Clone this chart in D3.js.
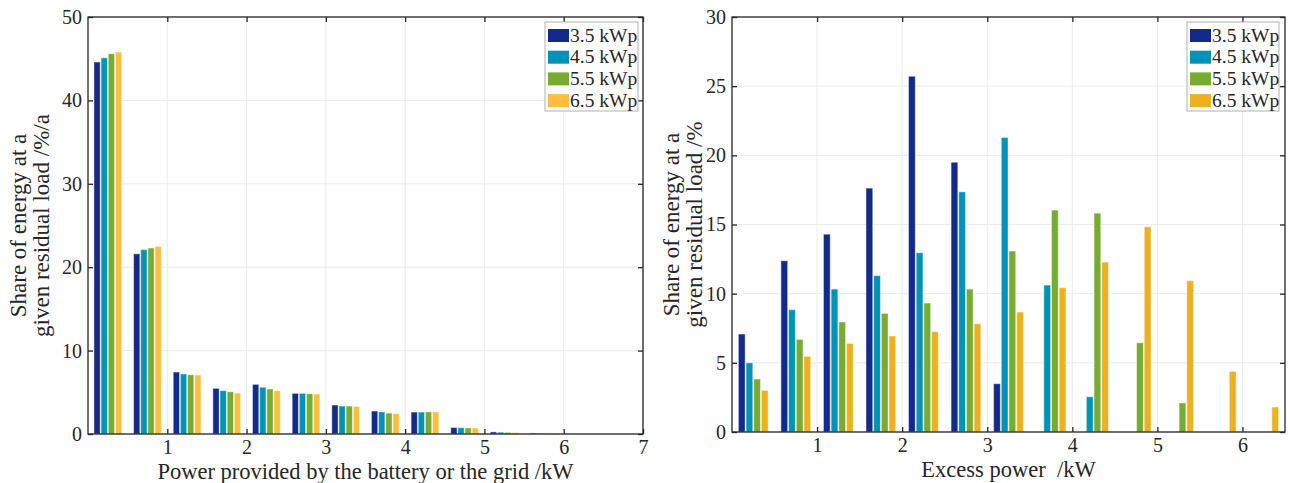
<!DOCTYPE html>
<html>
<head>
<meta charset="utf-8">
<script src="https://cdn.jsdelivr.net/npm/d3@7"></script>
<style>
  body { margin: 0; background: #fff; }
  text { font-family: "Liberation Serif", "Times New Roman", serif; fill: #262626; }
</style>
</head>
<body>
<svg id="chart" width="1290" height="483"></svg>
<script>
// series names
var seriesNames = ['3.5 kWp', '4.5 kWp', '5.5 kWp', '6.5 kWp'];

// left: power provided by battery or grid, bin centres (kW)
var leftBins = [0.25, 0.75, 1.25, 1.75, 2.25, 2.75, 3.25, 3.75, 4.25, 4.75, 5.25, 5.75];
var left35 = [44.6, 21.6, 7.43, 5.47, 5.95, 4.87, 3.47, 2.75, 2.63, 0.77, 0.25, 0.10];
var left45 = [45.1, 22.1, 7.2, 5.2, 5.6, 4.87, 3.35, 2.65, 2.63, 0.75, 0.22, 0.08];
var left55 = [45.6, 22.3, 7.1, 5.07, 5.4, 4.83, 3.35, 2.5, 2.65, 0.73, 0.20, 0.07];
var left65 = [45.8, 22.5, 7.07, 4.9, 5.2, 4.8, 3.3, 2.45, 2.65, 0.72, 0.18, 0.06];
var leftXTicks = [1, 2, 3, 4, 5, 6, 7];
var leftYTicks = [0, 10, 20, 30, 40, 50];

// right: excess power, bin centres (kW)
var rightBins = [0.25, 0.75, 1.25, 1.75, 2.25, 2.75, 3.25, 3.75, 4.25, 4.75, 5.25, 5.75, 6.25];
var right35 = [7.08, 12.38, 14.3, 17.63, 25.72, 19.5, 3.49, 0, 0, 0, 0, 0, 0];
var right45 = [5.0, 8.84, 10.33, 11.3, 12.96, 17.36, 21.29, 10.62, 2.55, 0, 0, 0, 0];
var right55 = [3.83, 6.69, 7.95, 8.57, 9.32, 10.33, 13.08, 16.04, 15.82, 6.45, 2.1, 0, 0];
var right65 = [3.0, 5.46, 6.4, 6.94, 7.25, 7.82, 8.67, 10.43, 12.28, 14.83, 10.93, 4.38, 1.81];
var rightXTicks = [1, 2, 3, 4, 5, 6];
var rightYTicks = [0, 5, 10, 15, 20, 25, 30];

var leftColors = ['#142a8a', '#0093ba', '#77ac30', '#fdbe3f'];
var rightColors = ['#142a8a', '#0093ba', '#77ac30', '#edb120'];

var svg = d3.select('#chart');

function drawPanel(opt) {
  var x = d3.scaleLinear().domain(opt.xDomain).range([opt.x0, opt.x1]);
  var y = d3.scaleLinear().domain(opt.yDomain).range([opt.y1, opt.y0]);
  var g = svg.append('g');

  // grid
  g.selectAll('.gx').data(opt.xTicks).enter().append('line')
    .attr('x1', function(d){ return x(d); }).attr('x2', function(d){ return x(d); })
    .attr('y1', opt.y0).attr('y2', opt.y1)
    .attr('stroke', '#ebebeb').attr('stroke-width', 1);
  g.selectAll('.gy').data(opt.yTicks).enter().append('line')
    .attr('x1', opt.x0).attr('x2', opt.x1)
    .attr('y1', function(d){ return y(d); }).attr('y2', function(d){ return y(d); })
    .attr('stroke', '#ebebeb').attr('stroke-width', 1);

  // bars
  var band = d3.scaleBand().domain(d3.range(4)).range([-opt.groupW / 2, opt.groupW / 2]).paddingInner(0.12);
  var scale = x(1) - x(0);
  opt.series.forEach(function(vals, si) {
    g.selectAll('.b' + si).data(vals).enter().append('rect')
      .attr('x', function(d, i){ return x(opt.bins[i]) + band(si) * scale; })
      .attr('width', band.bandwidth() * scale)
      .attr('y', function(d){ return y(d); })
      .attr('height', function(d){ return y(0) - y(d); })
      .attr('fill', opt.colors[si])
      .attr('stroke', 'rgba(255,255,255,0.45)').attr('stroke-width', 1)
      .attr('display', function(d){ return d > 0 ? null : 'none'; });
  });

  // box + inward ticks
  var axisColor = '#262626';
  g.append('rect').attr('x', opt.x0).attr('y', opt.y0)
    .attr('width', opt.x1 - opt.x0).attr('height', opt.y1 - opt.y0)
    .attr('fill', 'none').attr('stroke', axisColor).attr('stroke-width', 1.3);

  var fmt = d3.format('d');
  var bottom = d3.axisBottom(x).tickValues(opt.xTicks).tickFormat(fmt).tickSizeInner(-5).tickSizeOuter(0).tickPadding(6);
  var top = d3.axisTop(x).tickValues(opt.xTicks).tickSizeInner(-5).tickSizeOuter(0).tickFormat('');
  var leftAx = d3.axisLeft(y).tickValues(opt.yTicks).tickFormat(fmt).tickSizeInner(-5).tickSizeOuter(0).tickPadding(6);
  var rightAx = d3.axisRight(y).tickValues(opt.yTicks).tickSizeInner(-5).tickSizeOuter(0).tickFormat('');

  [[bottom, 'translate(0,' + opt.y1 + ')'], [top, 'translate(0,' + opt.y0 + ')'],
   [leftAx, 'translate(' + opt.x0 + ',0)'], [rightAx, 'translate(' + opt.x1 + ',0)']].forEach(function(a) {
    var ag = g.append('g').attr('transform', a[1]).call(a[0]);
    ag.select('.domain').remove();
    ag.selectAll('line').attr('stroke', axisColor).attr('stroke-width', 1.3);
    ag.selectAll('text').attr('font-size', 20).attr('font-family', '"Liberation Serif", serif').attr('fill', '#262626');
  });

  // axis labels
  g.append('text').attr('x', (opt.x0 + opt.x1) / 2).attr('y', opt.y1 + 45)
    .attr('text-anchor', 'middle').attr('font-size', 22.5).attr('xml:space', 'preserve').text(opt.xLabel);
  var yl = g.append('text').attr('text-anchor', 'middle').attr('font-size', 23)
    .attr('transform', 'translate(' + opt.yLabelX + ',' + ((opt.y0 + opt.y1) / 2) + ') rotate(-90)');
  yl.append('tspan').attr('x', 0).attr('y', 0).text(opt.yLabel[0]);
  yl.append('tspan').attr('x', 0).attr('y', 23).text(opt.yLabel[1]);

  // legend
  var lg = g.append('g');
  lg.append('rect').attr('x', opt.legX).attr('y', opt.y0 + 5).attr('width', opt.legW).attr('height', 89)
    .attr('fill', '#fff').attr('stroke', '#b0b0b0').attr('stroke-width', 1);
  seriesNames.forEach(function(name, i) {
    var yy = opt.y0 + 12 + i * 21.7;
    lg.append('rect').attr('x', opt.legX + 3).attr('y', yy).attr('width', 21).attr('height', 13)
      .attr('fill', opt.colors[i]);
    lg.append('text').attr('x', opt.legX + 25).attr('y', yy + 12.5).attr('font-size', 19.5).text(name);
  });
}

drawPanel({
  x0: 88, x1: 643, y0: 17, y1: 434,
  xDomain: [0, 7], yDomain: [0, 50],
  xTicks: leftXTicks, yTicks: leftYTicks,
  bins: leftBins, series: [left35, left45, left55, left65],
  colors: leftColors, groupW: 0.35,
  xLabel: 'Power provided by the battery or the grid /kW',
  yLabel: ['Share of energy at a', 'given residual load /%/a'],
  yLabelX: 26, legX: 545, legW: 93
});

drawPanel({
  x0: 732, x1: 1285, y0: 17, y1: 432,
  xDomain: [0, 6.5], yDomain: [0, 30],
  xTicks: rightXTicks, yTicks: rightYTicks,
  bins: rightBins, series: [right35, right45, right55, right65],
  colors: rightColors, groupW: 0.35,
  xLabel: 'Excess power  /kW',
  yLabel: ['Share of energy at a', 'given residual load /%'],
  yLabelX: 679, legX: 1187, legW: 92
});
</script>
</body>
</html>
